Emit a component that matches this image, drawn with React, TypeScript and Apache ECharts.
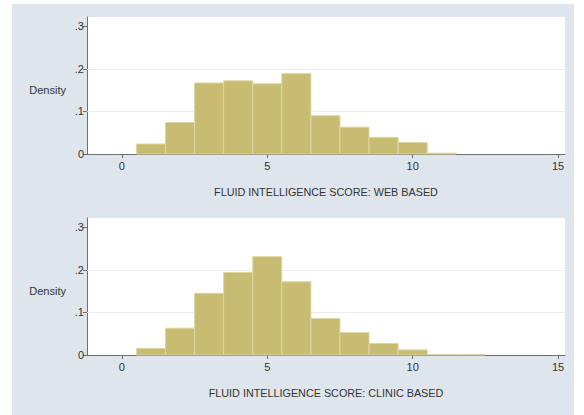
import React, { useEffect, useRef } from "react";
import * as echarts from "echarts";

const scores = [1, 2, 3, 4, 5, 6, 7, 8, 9, 10, 11, 12];
const webDensity = [0.0235, 0.074, 0.167, 0.172, 0.165, 0.189, 0.09, 0.063, 0.039, 0.027, 0.002, 0];
const clinicDensity = [0.0155, 0.063, 0.145, 0.194, 0.231, 0.172, 0.086, 0.053, 0.027, 0.012, 0.001, 0.001];
const xTicks = [0, 5, 10, 15];
const yTicks = [0, 0.1, 0.2, 0.3];
const gridValues = [0.1, 0.2];
const xTitles = ["FLUID INTELLIGENCE SCORE: WEB BASED", "FLUID INTELLIGENCE SCORE: CLINIC BASED"];
const yTitle = "Density";

const FONT = "'Liberation Sans', Arial, sans-serif";
const BAR = "#c8bc72";
const BAR_EDGE = "#ddd6a4";
const AXIS = "#6e6e6e";
const TEXT = "#333333";

export default function App() {
  const ref = useRef<HTMLDivElement>(null);
  useEffect(() => {
    document.body.style.margin = "0";
    const chart = echarts.init(ref.current!, null, { renderer: "svg" });
    const grids = [
      { left: 87, top: 17, width: 478, height: 137 },
      { left: 87, top: 218, width: 478, height: 137 },
    ];
    const xAxes = grids.map((_, i) => ({
      type: "value",
      gridIndex: i,
      min: -1.2,
      max: 15.24,
      name: xTitles[i],
      nameLocation: "middle",
      nameGap: 32,
      nameTextStyle: { fontFamily: FONT, fontSize: 10.8, color: TEXT },
      axisLine: { show: true, onZero: false, lineStyle: { color: AXIS, width: 1 } },
      axisTick: { show: true, length: 4, customValues: xTicks, lineStyle: { color: AXIS } },
      axisLabel: { customValues: xTicks, fontFamily: FONT, fontSize: 11, color: TEXT, margin: 6 },
      splitLine: { show: false },
    }));
    const yAxes = grids.map((_, i) => ({
      type: "value",
      gridIndex: i,
      min: 0,
      max: 0.322,
      name: yTitle,
      nameLocation: "middle",
      nameRotate: 0,
      nameGap: 21,
      nameTextStyle: { fontFamily: FONT, fontSize: 11, color: TEXT, verticalAlign: "top", lineHeight: 8 },
      axisLine: { show: true, onZero: false, lineStyle: { color: AXIS, width: 1 } },
      axisTick: { show: true, length: 4, customValues: yTicks, lineStyle: { color: AXIS } },
      axisLabel: {
        customValues: yTicks,
        fontFamily: FONT,
        fontSize: 11,
        color: TEXT,
        margin: 3,
        formatter: (v: number) => (v === 0 ? "0" : v.toFixed(1).replace(/^0/, "")),
      },
      splitLine: { show: false },
    }));
    const renderItem = (params: any, api: any) => {
      const x = api.value(0);
      const y = api.value(1);
      const p0 = api.coord([x - 0.5, y]);
      const p1 = api.coord([x + 0.5, 0]);
      return {
        type: "rect",
        shape: { x: p0[0], y: p0[1], width: p1[0] - p0[0], height: p1[1] - p0[1] },
        style: { fill: BAR, stroke: BAR_EDGE, lineWidth: 1 },
      };
    };
    const series = [webDensity, clinicDensity].map((vals, i) => ({
      type: "custom",
      xAxisIndex: i,
      yAxisIndex: i,
      renderItem,
      encode: { x: 0, y: 1 },
      data: scores.map((s, k) => [s, vals[k]]).filter((d) => d[1] > 0),
      markLine: {
        silent: true,
        symbol: "none",
        label: { show: false },
        lineStyle: { color: "#e9edf1", width: 1, type: "solid" },
        data: gridValues.map((v) => ({ yAxis: v })),
        z: 1,
      },
      z: 2,
    }));
    chart.setOption({
      animation: false,
      graphic: [
        {
          type: "rect",
          z: -100,
          shape: { x: 12, y: 4, width: 562, height: 411 },
          style: { fill: "#dfe5ec" },
          silent: true,
        },
      ],
      grid: grids.map((g) => ({ ...g, show: true, backgroundColor: "#ffffff", borderWidth: 0 })),
      xAxis: xAxes,
      yAxis: yAxes,
      series,
    });
    return () => chart.dispose();
  }, []);
  return <div ref={ref} style={{ width: 584, height: 415 }} />;
}
